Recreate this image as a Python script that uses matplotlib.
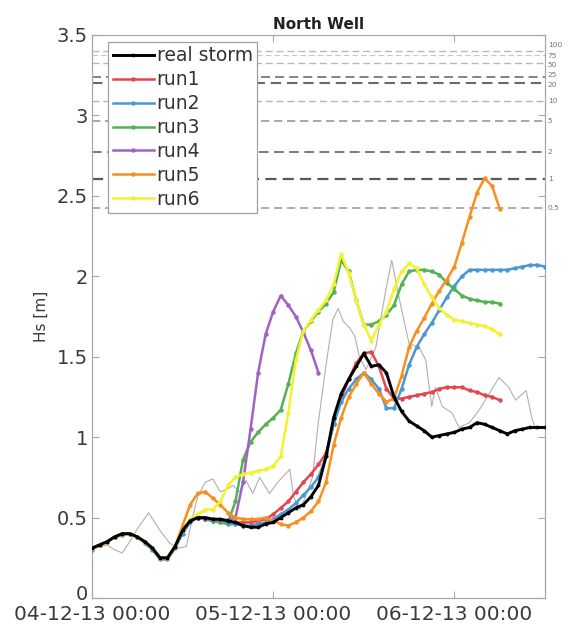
import numpy as np
import matplotlib
matplotlib.use("Agg")
import matplotlib.pyplot as plt
import matplotlib.dates as mdates
import matplotlib.transforms as mtransforms
from matplotlib.ticker import FuncFormatter, FixedLocator

plt.rcParams['font.family'] = ['DejaVu Sans']

# ---- data (Hs in metres, hourly from 04-12-13 00:00) ----
start = np.datetime64('2013-12-04T00:00')

real_storm = [0.31, 0.33, 0.35, 0.38, 0.40, 0.40, 0.38, 0.35, 0.31, 0.25,
              0.25, 0.32, 0.42, 0.48, 0.50, 0.50, 0.49, 0.49, 0.48, 0.47,
              0.45, 0.44, 0.44, 0.46, 0.47, 0.50, 0.53, 0.56, 0.58, 0.63,
              0.70, 0.88, 1.12, 1.27, 1.36, 1.44, 1.52, 1.44, 1.45, 1.40,
              1.25, 1.16, 1.10, 1.07, 1.04, 1.00, 1.01, 1.02, 1.03, 1.05,
              1.06, 1.09, 1.08, 1.06, 1.04, 1.02, 1.04, 1.05, 1.06, 1.06,
              1.06]

run1 = [0.31, 0.33, 0.35, 0.38, 0.40, 0.40, 0.38, 0.35, 0.31, 0.25,
        0.25, 0.32, 0.42, 0.48, 0.50, 0.49, 0.48, 0.48, 0.47, 0.47,
        0.47, 0.47, 0.48, 0.49, 0.52, 0.56, 0.60, 0.66, 0.72, 0.77,
        0.83, 0.90, 1.08, 1.24, 1.36, 1.46, 1.52, 1.53, 1.44, 1.30,
        1.24, 1.24, 1.25, 1.26, 1.27, 1.28, 1.30, 1.31, 1.31, 1.31,
        1.29, 1.28, 1.26, 1.25, 1.23]

run2 = [0.30, 0.33, 0.35, 0.38, 0.39, 0.40, 0.38, 0.34, 0.30, 0.24,
        0.24, 0.31, 0.40, 0.47, 0.50, 0.49, 0.48, 0.47, 0.46, 0.46,
        0.45, 0.45, 0.46, 0.47, 0.49, 0.52, 0.55, 0.59, 0.64, 0.69,
        0.75, 0.88, 1.08, 1.22, 1.30, 1.36, 1.40, 1.36, 1.30, 1.18,
        1.18, 1.30, 1.45, 1.56, 1.64, 1.71, 1.79, 1.87, 1.94, 2.00,
        2.04, 2.04, 2.04, 2.04, 2.04, 2.04, 2.05, 2.06, 2.07, 2.07,
        2.06]

run3 = [0.31, 0.33, 0.35, 0.38, 0.40, 0.40, 0.38, 0.35, 0.31, 0.25,
        0.25, 0.32, 0.42, 0.48, 0.50, 0.49, 0.48, 0.47, 0.47, 0.60,
        0.86, 0.97, 1.03, 1.08, 1.12, 1.17, 1.33, 1.52, 1.66, 1.72,
        1.78, 1.83, 1.90, 2.10, 2.03, 1.85, 1.70, 1.70, 1.72, 1.76,
        1.82, 1.95, 2.03, 2.04, 2.04, 2.03, 2.01, 1.96, 1.92, 1.88,
        1.86, 1.85, 1.84, 1.84, 1.83]

run4 = [0.31, 0.33, 0.35, 0.38, 0.40, 0.40, 0.38, 0.35, 0.31, 0.25,
        0.25, 0.32, 0.42, 0.48, 0.50, 0.49, 0.49, 0.485, 0.485, 0.50,
        0.72, 1.05, 1.40, 1.64, 1.78, 1.88, 1.82, 1.75, 1.65, 1.54,
        1.40]

run5 = [0.31, 0.33, 0.35, 0.38, 0.40, 0.40, 0.38, 0.35, 0.31, 0.25,
        0.25, 0.32, 0.45, 0.58, 0.65, 0.66, 0.62, 0.58, 0.53, 0.50,
        0.49, 0.49, 0.49, 0.50, 0.48, 0.46, 0.45, 0.47, 0.50, 0.54,
        0.60, 0.72, 0.95, 1.12, 1.25, 1.33, 1.40, 1.33, 1.27, 1.22,
        1.24, 1.38, 1.56, 1.66, 1.74, 1.83, 1.91, 1.98, 2.06, 2.21,
        2.37, 2.52, 2.61, 2.56, 2.42]

run6 = [0.31, 0.33, 0.35, 0.38, 0.40, 0.40, 0.38, 0.35, 0.31, 0.25,
        0.25, 0.32, 0.42, 0.49, 0.52, 0.55, 0.55, 0.60, 0.70, 0.75,
        0.77, 0.78, 0.79, 0.80, 0.82, 0.88, 1.15, 1.48, 1.66, 1.73,
        1.79, 1.85, 1.95, 2.14, 2.02, 1.85, 1.70, 1.60, 1.70, 1.78,
        1.92, 2.03, 2.08, 2.05, 1.95, 1.87, 1.80, 1.76, 1.73, 1.72,
        1.71, 1.70, 1.69, 1.67, 1.64]

# measured record (hours after start, Hs)
obs_hours = [0.5, 2, 3, 4, 5, 6, 7.5, 9, 10.3, 11.5, 12.5, 13.3, 14, 15, 16,
             17, 18, 18.7, 19.5, 20.4, 21.3, 22.2, 23.5, 24.8, 26.2, 26.7,
             27.5, 28.2, 29.2, 30, 31, 31.9, 32.6, 33.3, 34.1, 34.8, 35.4,
             36.3, 37.6, 38.9, 39.7, 40.7, 42, 43.3, 44.2, 45, 45.5, 46.4,
             47.7, 48.6, 50, 51.3, 52.6, 53.9, 55.2, 56.1, 57.5, 58.3, 58.8]
obs_hs = [0.31, 0.33, 0.30, 0.28, 0.35, 0.43, 0.53, 0.42, 0.34, 0.31, 0.32,
          0.50, 0.63, 0.72, 0.74, 0.66, 0.68, 0.70, 0.66, 0.73, 0.65, 0.75,
          0.65, 0.73, 0.80, 0.63, 0.55, 0.62, 0.75, 1.10, 1.45, 1.73, 1.80,
          1.72, 1.68, 1.63, 1.50, 1.42, 1.56, 1.91, 2.10, 1.86, 1.58, 1.56,
          1.48, 1.19, 1.31, 1.19, 1.15, 1.06, 1.09, 1.17, 1.27, 1.37, 1.31,
          1.23, 1.29, 1.11, 1.05]

# return-period levels (years) and their Hs thresholds
rp_labels = ['100', '75', '50', '25', '20', '10', '5', '2', '1', '0.5']
rp_levels = [3.40, 3.375, 3.325, 3.24, 3.20, 3.09, 2.965, 2.775, 2.603, 2.422]
rp_colors = ['#b8b8b8', '#c8c8c8', '#b8b8b8', '#7a7a7a', '#6a6a6a',
             '#b5b5b5', '#9a9a9a', '#7a7a7a', '#5a5a5a', '#a0a0a0']
rp_widths = [1.0, 0.8, 1.0, 1.3, 1.5, 1.0, 1.2, 1.4, 1.6, 1.2]
# small vertical nudges (points) so the crowded labels stay legible
rp_nudge = [4.1, -0.3, -1.2, 1.6, -0.9, 0, 0, 0, 0, 0]

run_names = ['run1', 'run2', 'run3', 'run4', 'run5', 'run6']
run_colors = ['#e4464f', '#4a97d2', '#55b252', '#a262c4', '#f7901f', '#f2f232']

def hourly_times(values):
    return start + np.arange(len(values)) * np.timedelta64(1, 'h')

fig = plt.figure(figsize=(5.77, 6.27), dpi=100)
ax = fig.add_axes([92 / 577, 29 / 627, 453 / 577, 563 / 627])

for lev, col, lw in zip(rp_levels, rp_colors, rp_widths):
    ax.axhline(lev, color=col, lw=lw, ls=(0, (5, 2.8)), zorder=1)

trans = mtransforms.blended_transform_factory(ax.transAxes, ax.transData)
for lab, lev, dy in zip(rp_labels, rp_levels, rp_nudge):
    ax.annotate(lab, xy=(1.006, lev), xycoords=trans, xytext=(0, dy),
                textcoords='offset points', fontsize=5.4, color='#777777',
                va='center', ha='left', annotation_clip=False)

obs_times = start + (np.array(obs_hours) * 60).astype('timedelta64[m]')
ax.plot(obs_times, obs_hs, color='#b0b0b0', lw=0.8, zorder=2)

handles = []
for name, vals, col in zip(run_names, [run1, run2, run3, run4, run5, run6], run_colors):
    h, = ax.plot(hourly_times(vals), vals, color=col, lw=1.8, marker='o',
                 ms=2.2, mfc=col, mec=col, label=name, zorder=3)
    handles.append(h)

hb, = ax.plot(hourly_times(real_storm), real_storm, color='black', lw=2.1,
              marker='.', ms=3.5, label='real storm', zorder=5)
handles.insert(0, hb)

ax.set_xlim(np.datetime64('2013-12-04T00:00'), np.datetime64('2013-12-06T12:00'))
ax.set_ylim(0, 3.5)
ax.xaxis.set_major_locator(mdates.DayLocator())
ax.xaxis.set_major_formatter(mdates.DateFormatter('%d-%m-%y %H:%M'))
ax.yaxis.set_major_locator(FixedLocator(np.arange(0, 3.51, 0.5)))
ax.yaxis.set_major_formatter(FuncFormatter(lambda v, p: '%g' % v))

for sp in ax.spines.values():
    sp.set_color('#a8a8a8')
    sp.set_linewidth(0.9)
ax.tick_params(direction='in', length=5, width=0.8, color='#a8a8a8',
               top=True, right=True, labelcolor='#3a3a3a')
ax.tick_params(axis='x', labelsize=14.5, pad=5)
ax.tick_params(axis='y', labelsize=14, pad=3)

ax.set_ylabel('Hs [m]', fontsize=11, color='#3a3a3a', labelpad=6)
ax.set_title('North Well', fontsize=11, fontweight='bold', color='#222222', pad=4)

leg = ax.legend(handles=handles, loc='upper left', bbox_to_anchor=(0.035, 0.988),
                borderaxespad=0, fontsize=13.5, frameon=True, fancybox=False,
                framealpha=1, edgecolor='#a0a0a0', handlelength=2.2,
                handletextpad=0.15, labelspacing=0.26, borderpad=0.25,
                numpoints=1)
leg.get_frame().set_linewidth(0.9)
for t in leg.get_texts():
    t.set_color('#333333')

# lift the "0" label slightly so it clears the first date label
fig.canvas.draw()
lift = mtransforms.ScaledTranslation(0, 4 / 72, fig.dpi_scale_trans)
for tick in ax.yaxis.get_major_ticks():
    if tick.label1.get_text() == '0':
        tick.label1.set_transform(tick.label1.get_transform() + lift)

fig.savefig('out.png', dpi=100)
